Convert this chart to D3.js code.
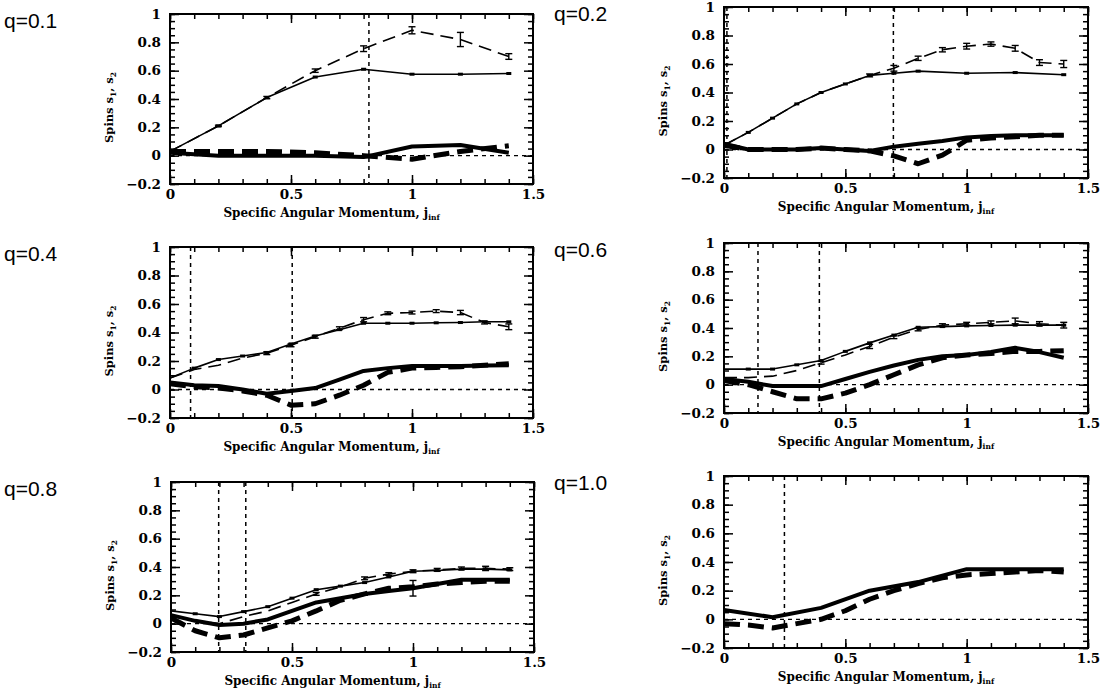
<!DOCTYPE html>
<html>
<head>
<meta charset="utf-8">
<script src="https://cdn.jsdelivr.net/npm/d3@7"></script>
<style>
    body { margin: 0; background: #fff; }
    svg { display: block; }
</style>
</head>
<body>
<div id="chart"></div>
<script>
// j_inf values at which the runs were made
const jFine = [0, 0.1, 0.2, 0.3, 0.4, 0.5, 0.6, 0.7, 0.8, 0.9, 1.0, 1.1, 1.2, 1.3, 1.4];
const jCoarse = [0, 0.2, 0.4, 0.6, 0.8, 1.0, 1.2, 1.4];
const jQ02Solid = [0, 0.1, 0.2, 0.3, 0.4, 0.5, 0.6, 0.7, 0.8, 1.0, 1.2, 1.4];

const qLabels = ["q=0.1", "q=0.2", "q=0.4", "q=0.6", "q=0.8", "q=1.0"];
const xMajorTicks = [0, 0.5, 1, 1.5];
const yMajorTicks = [-0.2, 0, 0.2, 0.4, 0.6, 0.8, 1];

// q = 0.1
const q01ThinSolid = [0.03, 0.21, 0.41, 0.555, 0.61, 0.575, 0.575, 0.58];
const q01ThinDashed = [0.03, 0.21, 0.41, 0.60, 0.755, 0.885, 0.82, 0.70];
const q01ThinDashedErr = [0, 0.005, 0.008, 0.012, 0.02, 0.025, 0.05, 0.02];
const q01ThickSolid = [0.02, 0.0, 0.0, 0.0, -0.01, 0.065, 0.075, 0.02];
const q01ThickDashed = [0.03, 0.03, 0.03, 0.02, 0.0, -0.025, 0.03, 0.07];
const q01Cuts = [0.822];

// q = 0.2
const q02ThinSolid = [0.03, 0.12, 0.22, 0.32, 0.40, 0.46, 0.52, 0.535, 0.55, 0.535, 0.54, 0.525];
const q02ThinDashed = [0.03, 0.12, 0.22, 0.32, 0.40, 0.46, 0.52, 0.57, 0.64, 0.70, 0.725, 0.74, 0.71, 0.61, 0.60];
const q02ThinDashedErr = [0, 0, 0, 0, 0, 0, 0.01, 0.02, 0.015, 0.015, 0.02, 0.015, 0.02, 0.02, 0.025];
const q02ThickSolid = [0.04, 0.0, 0.0, 0.0, 0.01, 0.0, -0.01, 0.02, 0.04, 0.06, 0.085, 0.095, 0.10, 0.10, 0.10];
const q02ThickDashed = [0.03, 0.0, 0.0, 0.0, 0.01, 0.0, -0.01, -0.045, -0.10, -0.04, 0.065, 0.08, 0.09, 0.10, 0.10];
const q02Cuts = [0.012, 0.698];

// q = 0.4
const q04ThinSolid = [0.08, 0.15, 0.21, 0.235, 0.26, 0.32, 0.375, 0.42, 0.465, 0.465, 0.465, 0.468, 0.47, 0.475, 0.475];
const q04ThinDashed = [0.08, 0.14, 0.17, 0.22, 0.255, 0.31, 0.37, 0.43, 0.49, 0.535, 0.54, 0.55, 0.54, 0.47, 0.44];
const q04ThinDashedErr = [0, 0, 0, 0, 0.01, 0.01, 0.01, 0.01, 0.015, 0.01, 0.01, 0.01, 0.015, 0.01, 0.02];
const q04ThickSolid = [0.05, 0.03, 0.025, 0.0, -0.03, -0.01, 0.01, 0.07, 0.13, 0.15, 0.165, 0.165, 0.165, 0.168, 0.17];
const q04ThickDashed = [0.04, 0.02, 0.01, -0.01, -0.04, -0.11, -0.10, -0.04, 0.03, 0.12, 0.15, 0.155, 0.16, 0.17, 0.18];
const q04Cuts = [0.085, 0.505];

// q = 0.6
const q06ThinSolid = [0.11, 0.11, 0.11, 0.14, 0.17, 0.235, 0.295, 0.35, 0.405, 0.41, 0.415, 0.418, 0.42, 0.42, 0.42];
const q06ThinDashed = [0.05, 0.05, 0.06, 0.10, 0.155, 0.21, 0.27, 0.335, 0.39, 0.42, 0.43, 0.44, 0.45, 0.43, 0.42];
const q06ThinDashedErr = [0, 0, 0, 0, 0.01, 0, 0.015, 0.01, 0.01, 0.01, 0.01, 0.01, 0.02, 0.015, 0.02];
const q06ThickSolid = [0.04, 0.02, -0.01, -0.01, -0.01, 0.04, 0.09, 0.135, 0.175, 0.20, 0.21, 0.23, 0.26, 0.23, 0.19];
const q06ThickDashed = [0.03, 0.0, -0.05, -0.10, -0.10, -0.06, 0.0, 0.07, 0.14, 0.19, 0.21, 0.22, 0.235, 0.235, 0.24];
const q06Cuts = [0.14, 0.393];

// q = 0.8
const q08ThinSolid = [0.09, 0.07, 0.05, 0.085, 0.12, 0.18, 0.24, 0.265, 0.29, 0.33, 0.37, 0.375, 0.385, 0.385, 0.38];
const q08ThinDashed = [0.06, 0.02, 0.0, 0.05, 0.09, 0.15, 0.21, 0.26, 0.32, 0.35, 0.37, 0.38, 0.39, 0.39, 0.385];
const q08ThinDashedErr = [0, 0, 0, 0, 0, 0, 0.01, 0, 0.01, 0.01, 0.01, 0.01, 0.01, 0.015, 0.01];
const q08ThickSolid = [0.06, 0.02, -0.01, 0.0, 0.03, 0.09, 0.15, 0.18, 0.21, 0.23, 0.25, 0.28, 0.31, 0.31, 0.31];
const q08ThickSolidErr = [0, 0, 0, 0, 0, 0, 0, 0, 0, 0, 0.055, 0, 0, 0, 0];
const q08ThickDashed = [0.04, -0.05, -0.10, -0.08, -0.03, 0.02, 0.09, 0.165, 0.21, 0.25, 0.26, 0.28, 0.29, 0.30, 0.30];
const q08Cuts = [0.197, 0.309];

// q = 1.0
const q10ThickSolid = [0.065, 0.015, 0.08, 0.20, 0.26, 0.35, 0.35, 0.35];
const q10ThickDashed = [-0.03, -0.04, -0.06, -0.03, 0.0, 0.06, 0.14, 0.20, 0.25, 0.29, 0.31, 0.32, 0.33, 0.34, 0.33];
const q10Cuts = [0.249];

// panel boxes on the page (left, top, width, height)
const boxes = [
    {left: 170, top: 14, width: 363, height: 170},
    {left: 724, top: 7, width: 364, height: 171},
    {left: 170, top: 247, width: 363, height: 171},
    {left: 724, top: 243, width: 364, height: 170},
    {left: 171, top: 482, width: 363, height: 170},
    {left: 724, top: 476, width: 364, height: 172}
];

// line styles for the four kinds of curve
const styles = {
    thinSolid: {width: 1.6, dash: null},
    thinDashed: {width: 1.6, dash: "13,7"},
    thickSolid: {width: 4, dash: null},
    thickDashed: {width: 5, dash: "16,8"}
};

const panels = [
    {cuts: q01Cuts, series: [
        {kind: "thinSolid", j: jCoarse, s: q01ThinSolid},
        {kind: "thinDashed", j: jCoarse, s: q01ThinDashed, err: q01ThinDashedErr},
        {kind: "thickSolid", j: jCoarse, s: q01ThickSolid},
        {kind: "thickDashed", j: jCoarse, s: q01ThickDashed}]},
    {cuts: q02Cuts, series: [
        {kind: "thinSolid", j: jQ02Solid, s: q02ThinSolid},
        {kind: "thinDashed", j: jFine, s: q02ThinDashed, err: q02ThinDashedErr},
        {kind: "thickSolid", j: jFine, s: q02ThickSolid},
        {kind: "thickDashed", j: jFine, s: q02ThickDashed}]},
    {cuts: q04Cuts, series: [
        {kind: "thinSolid", j: jFine, s: q04ThinSolid},
        {kind: "thinDashed", j: jFine, s: q04ThinDashed, err: q04ThinDashedErr},
        {kind: "thickSolid", j: jFine, s: q04ThickSolid},
        {kind: "thickDashed", j: jFine, s: q04ThickDashed}]},
    {cuts: q06Cuts, series: [
        {kind: "thinSolid", j: jFine, s: q06ThinSolid},
        {kind: "thinDashed", j: jFine, s: q06ThinDashed, err: q06ThinDashedErr},
        {kind: "thickSolid", j: jFine, s: q06ThickSolid},
        {kind: "thickDashed", j: jFine, s: q06ThickDashed}]},
    {cuts: q08Cuts, series: [
        {kind: "thinSolid", j: jFine, s: q08ThinSolid},
        {kind: "thinDashed", j: jFine, s: q08ThinDashed, err: q08ThinDashedErr},
        {kind: "thickSolid", j: jFine, s: q08ThickSolid, err: q08ThickSolidErr},
        {kind: "thickDashed", j: jFine, s: q08ThickDashed}]},
    {cuts: q10Cuts, series: [
        {kind: "thickSolid", j: jCoarse, s: q10ThickSolid},
        {kind: "thickDashed", j: jFine, s: q10ThickDashed}]}
];

const labelFont = "'DejaVu Serif', serif";

let svg = d3.select("#chart")
    .append("svg")
    .attr("width", 1104)
    .attr("height", 694);

/**
 * draw one panel
 * @param box position of the plot area
 * @param panel curves of the panel
 * @param label q label
 */
function drawPanel(box, panel, label) {
    let xScale = d3.scaleLinear().domain([0, 1.5]).range([box.left, box.left + box.width]);
    let yScale = d3.scaleLinear().domain([-0.2, 1]).range([box.top + box.height, box.top]);
    let g = svg.append("g");

    // dotted zero line and vertical markers
    g.append("line")
        .attr("x1", xScale(0)).attr("x2", xScale(1.5))
        .attr("y1", yScale(0)).attr("y2", yScale(0))
        .attr("stroke", "#000").attr("stroke-width", 1.3)
        .attr("stroke-dasharray", "4,4");
    g.selectAll("line.cut")
        .data(panel.cuts)
        .enter()
        .append("line")
        .attr("class", "cut")
        .attr("x1", d => xScale(d)).attr("x2", d => xScale(d))
        .attr("y1", yScale(1)).attr("y2", yScale(-0.2))
        .attr("stroke", "#000").attr("stroke-width", 1.5)
        .attr("stroke-dasharray", "4,4");

    let line = d3.line()
        .x(d => xScale(d[0]))
        .y(d => yScale(d[1]));

    panel.series.forEach(function (ser) {
        let pts = ser.j.map((j, i) => [j, ser.s[i]]);
        let st = styles[ser.kind];
        g.append("path")
            .datum(pts)
            .attr("d", line)
            .attr("fill", "none")
            .attr("stroke", "#000")
            .attr("stroke-width", st.width)
            .attr("stroke-linejoin", "round")
            .attr("stroke-dasharray", st.dash);

        // small marks on the thin solid curve
        if (ser.kind === "thinSolid") {
            g.selectAll(null)
                .data(pts.slice(1))
                .enter()
                .append("rect")
                .attr("x", d => xScale(d[0]) - 2.5)
                .attr("y", d => yScale(d[1]) - 1.5)
                .attr("width", 5)
                .attr("height", 3)
                .attr("fill", "#000");
        }

        // error bars
        if (ser.err) {
            let eb = pts.map((p, i) => [p[0], p[1], ser.err[i]]).filter(d => d[2] > 0);
            let bars = g.selectAll(null)
                .data(eb)
                .enter()
                .append("g");
            bars.append("line")
                .attr("x1", d => xScale(d[0])).attr("x2", d => xScale(d[0]))
                .attr("y1", d => yScale(d[1] - d[2])).attr("y2", d => yScale(d[1] + d[2]));
            bars.append("line")
                .attr("x1", d => xScale(d[0]) - 3.5).attr("x2", d => xScale(d[0]) + 3.5)
                .attr("y1", d => yScale(d[1] - d[2])).attr("y2", d => yScale(d[1] - d[2]));
            bars.append("line")
                .attr("x1", d => xScale(d[0]) - 3.5).attr("x2", d => xScale(d[0]) + 3.5)
                .attr("y1", d => yScale(d[1] + d[2])).attr("y2", d => yScale(d[1] + d[2]));
            bars.selectAll("line").attr("stroke", "#000").attr("stroke-width", 1.4);
        }
    });

    // axes: ticks on all four sides pointing inward
    let xMinor = d3.range(0, 1.5001, 0.1);
    let yMinor = d3.range(-0.2, 1.0001, 0.05);
    let fmt = d3.format("~g");
    let bottom = box.top + box.height;
    let right = box.left + box.width;

    let axes = [
        [d3.axisBottom(xScale).tickValues(xMinor).tickSize(-5).tickFormat(""), "translate(0," + bottom + ")"],
        [d3.axisTop(xScale).tickValues(xMinor).tickSize(-5).tickFormat(""), "translate(0," + box.top + ")"],
        [d3.axisTop(xScale).tickValues(xMajorTicks).tickSize(-9).tickFormat(""), "translate(0," + box.top + ")"],
        [d3.axisLeft(yScale).tickValues(yMinor).tickSize(-5).tickFormat(""), "translate(" + box.left + ",0)"],
        [d3.axisRight(yScale).tickValues(yMinor).tickSize(-5).tickFormat(""), "translate(" + right + ",0)"],
        [d3.axisRight(yScale).tickValues(yMajorTicks).tickSize(-9).tickFormat(""), "translate(" + right + ",0)"],
        [d3.axisBottom(xScale).tickValues(xMajorTicks).tickSize(-9).tickPadding(5).tickFormat(fmt), "translate(0," + bottom + ")"],
        [d3.axisLeft(yScale).tickValues(yMajorTicks).tickSize(-9).tickPadding(9).tickFormat(fmt), "translate(" + box.left + ",0)"]
    ];
    axes.forEach(function (a) {
        let ax = g.append("g").attr("transform", a[1]).call(a[0]);
        ax.select(".domain").remove();
        ax.selectAll("line").attr("stroke-width", 1.5);
        ax.attr("font-family", labelFont).attr("font-size", 13.5).attr("font-weight", "bold");
    });

    // frame
    g.append("rect")
        .attr("x", box.left).attr("y", box.top)
        .attr("width", box.width).attr("height", box.height)
        .attr("fill", "none").attr("stroke", "#000").attr("stroke-width", 2);

    // axis titles
    let xt = g.append("text")
        .attr("x", box.left + box.width * 0.445)
        .attr("y", bottom + 33)
        .attr("text-anchor", "middle")
        .attr("font-family", labelFont).attr("font-size", 12).attr("font-weight", "bold")
        .text("Specific Angular Momentum, j");
    xt.append("tspan").attr("font-size", 7.5).attr("dy", 3).text("inf");

    let yt = g.append("text")
        .attr("transform", "translate(" + (box.left - 57) + "," + (box.top + box.height * 0.55) + ") rotate(-90)")
        .attr("text-anchor", "middle")
        .attr("font-family", labelFont).attr("font-size", 11.5).attr("font-weight", "bold")
        .text("Spins s");
    yt.append("tspan").attr("font-size", 7.5).attr("dy", 3).text("1");
    yt.append("tspan").attr("dy", -3).text(", s");
    yt.append("tspan").attr("font-size", 7.5).attr("dy", 3).text("2");

    // q label
    svg.append("text")
        .attr("x", box.left < 400 ? 4 : 554)
        .attr("y", box.top + 14)
        .attr("font-family", "'Liberation Sans', Arial, sans-serif")
        .attr("font-size", 21)
        .text(label);
}

panels.forEach(function (p, i) {
    drawPanel(boxes[i], p, qLabels[i]);
});
</script>
</body>
</html>
